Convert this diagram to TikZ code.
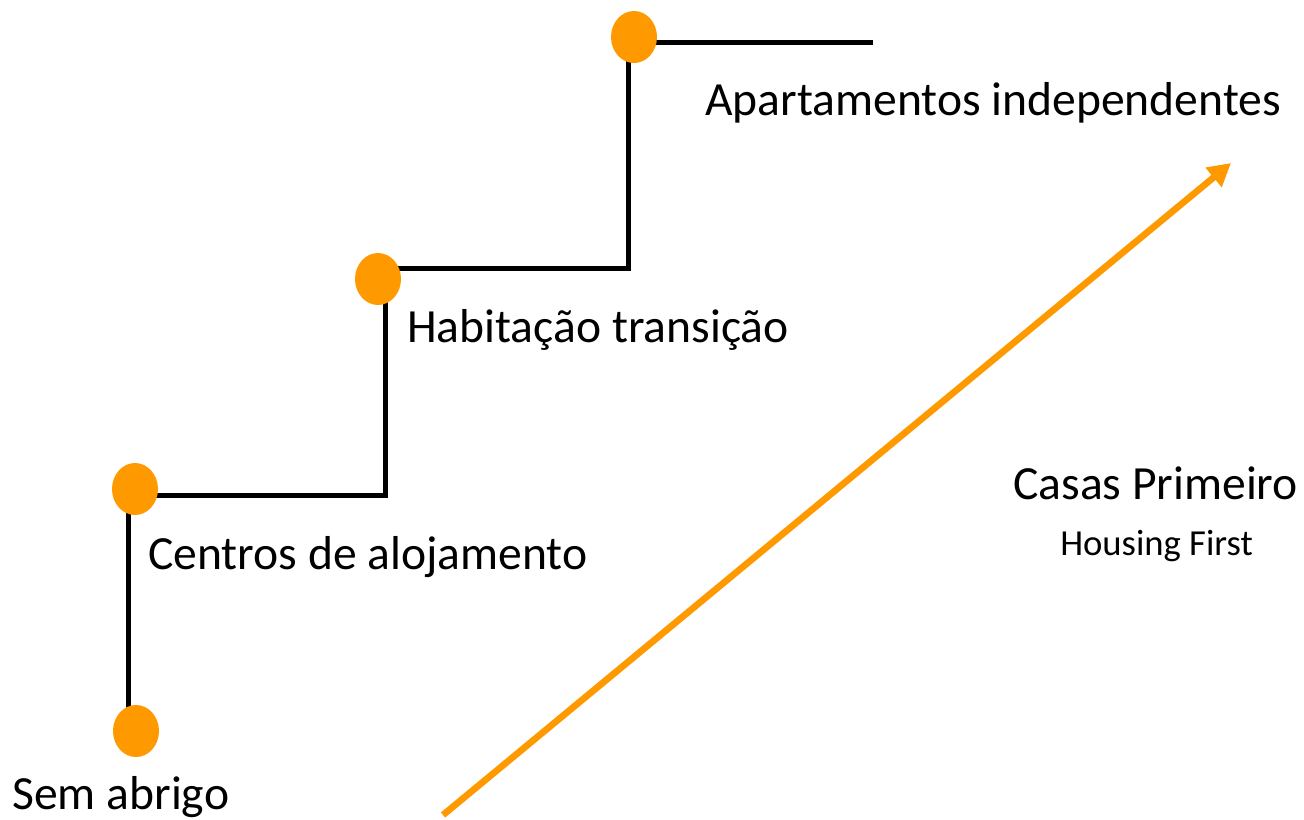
\documentclass[tikz,border=0pt]{standalone}
\usepackage{fontspec}
\setmainfont{Carlito}
\usetikzlibrary{shapes.geometric, arrows.meta}
\definecolor{dotorange}{RGB}{255,153,0}

\begin{document}
\begin{tikzpicture}[x=0.75pt,y=0.75pt,yscale=-1,xscale=1]
\tikzset{
  stair/.style={line width=3.75pt, color=black},
  stepdot/.style={ellipse, fill=dotorange, draw=none, minimum width=34.5pt, minimum height=39pt, inner sep=0pt},
  steplabel/.style={anchor=base west, inner sep=0pt, font=\fontsize{35.7}{43}\selectfont},
  hflabel/.style={anchor=base west, inner sep=0pt, font=\fontsize{27.5}{33}\selectfont},
}
\useasboundingbox (0,0) rectangle (1304,819);

%Stair corners
\coordinate (s0) at (128,731);
\coordinate (s1) at (385,495);
\coordinate (s2) at (628,268);
\coordinate (s3) at (873,42);

%Staircase
\draw [stair] (s0) |- (s1) |- (s2) |- (s3);

%Dots
\node [stepdot] (semabrigo) at (136,731) {};
\node [stepdot] (centros) at (135,489) {};
\node [stepdot] (habitacao) at (378,279) {};
\node [stepdot] (apartamentos) at (634,37) {};

%Arrow
\coordinate (hfstart) at (443,815);
\coordinate (hfend) at (1231,163);
\draw [dotorange, line width=5pt, -{Triangle[length=17pt, width=18pt]}] (hfstart) -- (hfend);

% Text Node
\node [steplabel] (tsem) at (12,809) {Sem abrigo};
% Text Node
\node [steplabel] (tcen) at (148,569) {Centros de alojamento};
% Text Node
\node [steplabel] (thab) at (407,342) {Habitação transição};
% Text Node
\node [steplabel] (tapa) at (705,115) {Apartamentos independentes};
% Text Node
\node [steplabel] (tcas) at (1013,499) {Casas Primeiro};
% Text Node
\node [hflabel] (thou) at (1060,555) {Housing First};

\end{tikzpicture}
\end{document}
